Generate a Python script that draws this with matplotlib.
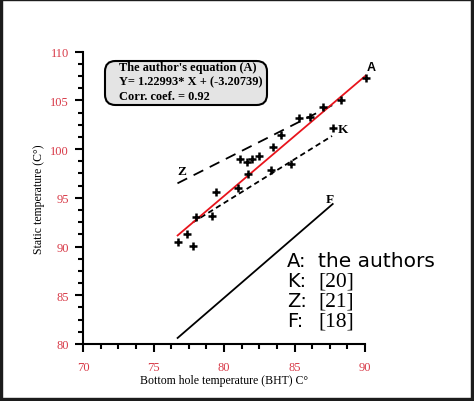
import matplotlib
matplotlib.use("Agg")
import matplotlib.pyplot as plt
import numpy as np
from matplotlib.patches import FancyBboxPatch, Rectangle
from matplotlib.ticker import MultipleLocator

# ---- data ----
bht = [76.71, 77.40, 77.78, 78.01, 79.17, 79.43, 80.99, 81.13, 81.61, 81.73, 82.01,
       82.51, 83.33, 83.45, 84.04, 84.73, 85.32, 86.10, 87.00, 88.27, 87.71, 90.05]
static = [90.50, 91.29, 90.02, 93.07, 93.17, 95.63, 96.04, 98.95, 98.65, 97.41, 99.02,
          99.33, 97.82, 100.22, 101.42, 98.47, 103.16, 103.26, 104.32, 105.04, 102.20, 107.30]

a_slope, a_intercept = 1.22993, -3.20739
a_x = [76.71, 90.05]
z_x = [76.7, 87.8]
z_y = [96.49, 104.6]
k_x = [77.8, 87.66]
k_y = [92.49, 101.35]
f_x = [76.71, 87.71]
f_y = [80.62, 94.37]

legend_keys = ["A:", "K:", "Z:", "F:"]
legend_vals = ["the authors", "[20]", "[21]", "[18]"]
eq_lines = ["The author's equation (A)", "Y= 1.22993* X + (-3.20739)", "Corr. coef. = 0.92"]

W, H = 474, 402
fig = plt.figure(figsize=(W / 100, H / 100), dpi=100)
ax = fig.add_axes([83 / W, 1 - 345 / H, (365 - 83) / W, (345 - 52.7) / H])

serif = "Liberation Serif"
red_tick = "#d83a48"

# lines
ax_y = [a_slope * v + a_intercept for v in a_x]
ax.plot(a_x, ax_y, color="#e8141c", lw=1.3, clip_on=False, zorder=3)
ax.plot(z_x, z_y, color="black", lw=1.3, dashes=(6, 4), clip_on=False)
ax.plot(k_x, k_y, color="black", lw=1.3, dashes=(3, 2), clip_on=False)
ax.plot(f_x, f_y, color="black", lw=1.3, clip_on=False)
ax.plot(bht, static, linestyle="none", marker="+", color="black", ms=6.2, mew=1.8,
        clip_on=False, zorder=4)

# line labels
ax.text(90.45, 108.4, "A", fontsize=9, fontweight="bold", family="Liberation Sans",
        ha="center", va="center")
ax.text(88.45, 102.1, "K", fontsize=9.5, fontweight="bold", family=serif, ha="center", va="center")
ax.text(77.0, 97.8, "Z", fontsize=9.5, fontweight="bold", family=serif, ha="center", va="center")
ax.text(87.5, 94.9, "F", fontsize=9.5, fontweight="bold", family=serif, ha="center", va="center")

ax.set_xlim(70, 90)
ax.set_ylim(80, 110)
ax.xaxis.set_major_locator(MultipleLocator(5))
ax.xaxis.set_minor_locator(MultipleLocator(1.25))
ax.yaxis.set_major_locator(MultipleLocator(5))
ax.yaxis.set_minor_locator(MultipleLocator(1.25))
for s in ["top", "right"]:
    ax.spines[s].set_visible(False)
for s in ["left", "bottom"]:
    ax.spines[s].set_linewidth(1.5)
ax.tick_params(axis="both", which="major", direction="out", length=6, width=1.5,
               labelcolor=red_tick, labelsize=9)
ax.tick_params(axis="both", which="minor", direction="out", length=3.5, width=1.5)
ax.tick_params(axis="x", which="major", pad=6)
ax.tick_params(axis="y", which="major", pad=4)
for lab in ax.get_xticklabels() + ax.get_yticklabels():
    lab.set_family(serif)

ax.set_xlabel("Bottom hole temperature (BHT) C°", family=serif, fontsize=8.5, labelpad=1)
ax.set_ylabel("Static temperature (C°)", family=serif, fontsize=8.5, labelpad=4)

# equation box (pixel-based figure coordinates)
box = FancyBboxPatch((105 / W, 1 - 106 / H), (267 - 105) / W, (106 - 62) / H,
                     boxstyle="round,pad=0,rounding_size=0.022",
                     transform=fig.transFigure, fc="#e4e4e4", ec="black", lw=1.5,
                     mutation_aspect=W / H)
fig.add_artist(box)
for i, line in enumerate(eq_lines):
    fig.text(119 / W, 1 - (68.5 + 14.2 * i) / H, line, family=serif, fontweight="bold",
             fontsize=8.9, ha="left", va="center")

# text legend
for i, (k, v) in enumerate(zip(legend_keys, legend_vals)):
    yb = 1 - (267 + 20 * i) / H
    fig.text(287 / W, yb, k, family="DejaVu Sans", fontsize=14, ha="left", va="baseline")
    if i == 0:
        fig.text(318 / W, yb, v, family="DejaVu Sans", fontsize=14.5, ha="left", va="baseline")
    else:
        fig.text(318 / W, yb, v, family=serif, fontsize=15.5, ha="left", va="baseline")

# figure border
bc = "#1c1c1c"
fig.add_artist(Rectangle((0, 0), 2 / W, 1, transform=fig.transFigure, color=bc))
fig.add_artist(Rectangle((0, 1 - 1 / H), 1, 1 / H, transform=fig.transFigure, color=bc))
fig.add_artist(Rectangle((1 - 3 / W, 0), 3 / W, 1, transform=fig.transFigure, color=bc))
fig.add_artist(Rectangle((0, 0), 1, 3 / H, transform=fig.transFigure, color=bc))

fig.savefig("out.png", dpi=100)
